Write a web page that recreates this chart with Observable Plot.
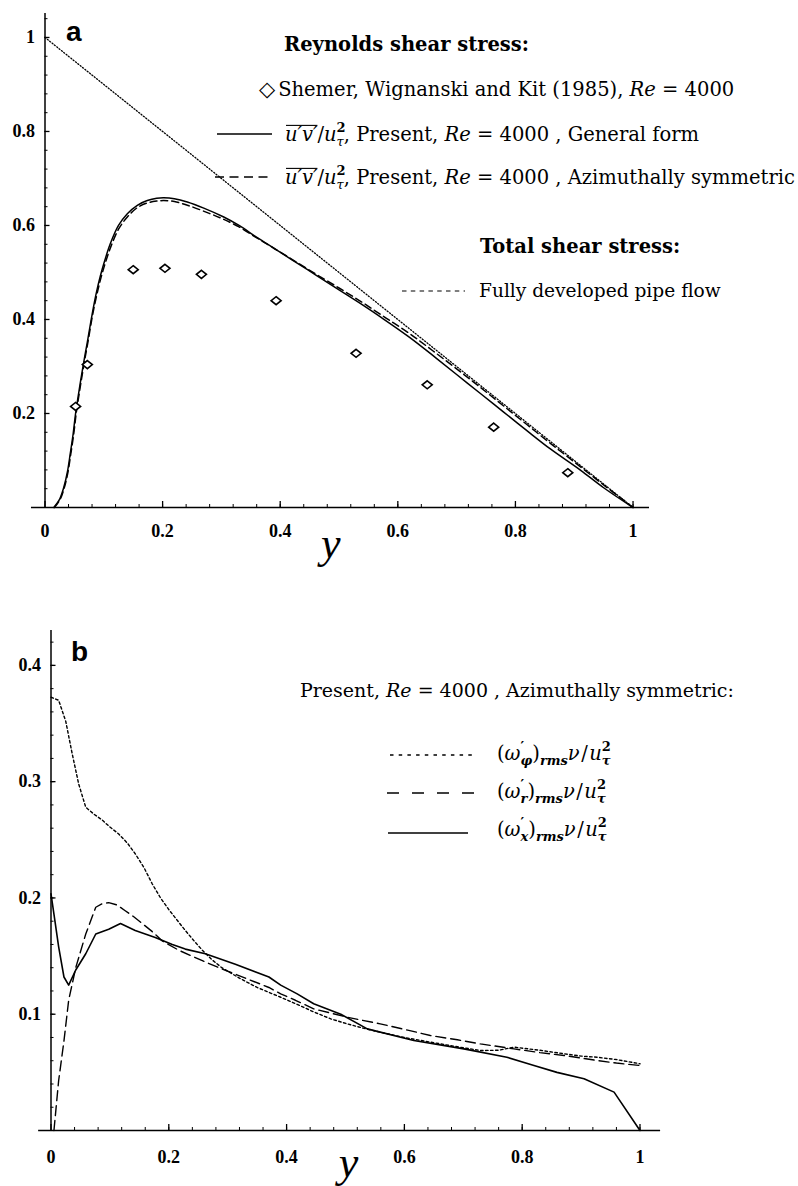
<!DOCTYPE html>
<html>
<head>
<meta charset="utf-8">
<script src="https://cdn.jsdelivr.net/npm/d3@7"></script>
<script src="https://cdn.jsdelivr.net/npm/@observablehq/plot@0.6"></script>
<style>
  body { margin: 0; background: #fff; }
  svg { display: block; }
</style>
</head>
<body>
<div id="chart"></div>
<script>
// ---------- Panel a: shear stress across the pipe ----------
// Reynolds shear stress, general form
const stressGenX = [0.015, 0.025, 0.032, 0.038, 0.043, 0.048, 0.052, 0.056, 0.060, 0.066, 0.072, 0.080, 0.087, 0.094, 0.102, 0.111, 0.125, 0.140, 0.157, 0.174, 0.190, 0.202, 0.220, 0.242, 0.270, 0.304, 0.330, 0.361, 0.390, 0.420, 0.460, 0.500, 0.540, 0.571, 0.620, 0.660, 0.700, 0.741, 0.780, 0.820, 0.860, 0.911, 0.950, 1.000];
const stressGenY = [0, 0.018, 0.043, 0.075, 0.115, 0.158, 0.200, 0.233, 0.265, 0.310, 0.352, 0.410, 0.455, 0.492, 0.527, 0.561, 0.600, 0.625, 0.643, 0.653, 0.658, 0.659, 0.657, 0.650, 0.637, 0.618, 0.600, 0.574, 0.551, 0.527, 0.495, 0.463, 0.431, 0.405, 0.362, 0.323, 0.283, 0.242, 0.203, 0.163, 0.124, 0.079, 0.042, 0];
// Reynolds shear stress, azimuthally symmetric
const stressSymX = [0.016, 0.026, 0.033, 0.039, 0.044, 0.049, 0.053, 0.057, 0.061, 0.067, 0.073, 0.081, 0.088, 0.095, 0.103, 0.112, 0.125, 0.140, 0.157, 0.174, 0.190, 0.202, 0.220, 0.247, 0.281, 0.304, 0.330, 0.361, 0.390, 0.420, 0.460, 0.500, 0.540, 0.580, 0.620, 0.660, 0.700, 0.740, 0.780, 0.820, 0.860, 0.900, 0.950, 1.000];
const stressSymY = [0, 0.018, 0.043, 0.075, 0.115, 0.158, 0.200, 0.233, 0.265, 0.310, 0.352, 0.410, 0.452, 0.488, 0.522, 0.555, 0.592, 0.618, 0.638, 0.648, 0.652, 0.653, 0.651, 0.641, 0.625, 0.613, 0.597, 0.573, 0.551, 0.528, 0.497, 0.467, 0.436, 0.403, 0.370, 0.333, 0.295, 0.256, 0.216, 0.176, 0.136, 0.097, 0.048, 0];
// Total shear stress, fully developed pipe flow
const totalX = [0, 1];
const totalY = [1, 0];
// Shemer, Wignanski and Kit (1985), Re = 4000
const shemerX = [0.052, 0.072, 0.150, 0.204, 0.266, 0.393, 0.529, 0.650, 0.763, 0.889];
const shemerY = [0.215, 0.304, 0.506, 0.509, 0.496, 0.440, 0.328, 0.261, 0.171, 0.074];

// ---------- Panel b: rms vorticity fluctuations ----------
const omegaPhiX = [0, 0.013, 0.025, 0.036, 0.047, 0.059, 0.073, 0.087, 0.100, 0.115, 0.130, 0.143, 0.158, 0.172, 0.186, 0.200, 0.214, 0.228, 0.243, 0.257, 0.273, 0.290, 0.320, 0.350, 0.390, 0.420, 0.446, 0.475, 0.503, 0.530, 0.559, 0.600, 0.644, 0.690, 0.729, 0.760, 0.786, 0.830, 0.871, 0.900, 0.927, 0.960, 1.000];
const omegaPhiY = [0.3726, 0.370, 0.352, 0.324, 0.298, 0.278, 0.272, 0.267, 0.261, 0.255, 0.247, 0.238, 0.226, 0.212, 0.200, 0.190, 0.181, 0.172, 0.163, 0.155, 0.147, 0.140, 0.131, 0.123, 0.1146, 0.108, 0.102, 0.096, 0.0917, 0.088, 0.0845, 0.080, 0.076, 0.072, 0.0688, 0.069, 0.0717, 0.069, 0.066, 0.064, 0.063, 0.061, 0.0574];
const omegaRX = [0.005, 0.013, 0.022, 0.030, 0.042, 0.059, 0.076, 0.087, 0.098, 0.112, 0.126, 0.140, 0.155, 0.172, 0.189, 0.217, 0.257, 0.290, 0.330, 0.370, 0.390, 0.415, 0.446, 0.475, 0.503, 0.559, 0.600, 0.644, 0.690, 0.729, 0.786, 0.830, 0.871, 0.927, 0.960, 1.000];
const omegaRY = [0, 0.043, 0.077, 0.112, 0.140, 0.169, 0.192, 0.195, 0.196, 0.194, 0.189, 0.184, 0.178, 0.171, 0.163, 0.155, 0.146, 0.139, 0.131, 0.123, 0.1175, 0.112, 0.1046, 0.101, 0.0974, 0.0917, 0.087, 0.0817, 0.078, 0.0745, 0.0702, 0.067, 0.0645, 0.0602, 0.058, 0.0559];
const omegaXX = [0, 0.005, 0.013, 0.022, 0.030, 0.042, 0.059, 0.076, 0.098, 0.118, 0.143, 0.177, 0.206, 0.228, 0.262, 0.313, 0.370, 0.390, 0.418, 0.446, 0.492, 0.537, 0.616, 0.701, 0.774, 0.820, 0.859, 0.905, 0.956, 1.000];
const omegaXY = [0.2035, 0.186, 0.158, 0.132, 0.125, 0.138, 0.152, 0.169, 0.173, 0.178, 0.172, 0.166, 0.160, 0.156, 0.152, 0.143, 0.132, 0.125, 0.1175, 0.109, 0.100, 0.0874, 0.0774, 0.0702, 0.063, 0.0559, 0.050, 0.0445, 0.033, 0];

// ---------- Tick values and labels ----------
const xTickValues = [0, 0.2, 0.4, 0.6, 0.8, 1];
const xTickLabels = ["0", "0.2", "0.4", "0.6", "0.8", "1"];
const aYTickValues = [0.2, 0.4, 0.6, 0.8, 1];
const aYTickLabels = ["0.2", "0.4", "0.6", "0.8", "1"];
const bYTickValues = [0.1, 0.2, 0.3, 0.4];
const bYTickLabels = ["0.1", "0.2", "0.3", "0.4"];

// ---------- helpers ----------
const zip = (xs, ys) => xs.map((x, i) => ({x, y: ys[i]}));
const ticks = (vals, labels) => vals.map((v, i) => ({v, label: labels[i]}));
const minorTicks = (lo, hi, step) => d3.range(Math.round(lo / step), Math.floor(hi / step + 1e-9) + 1).map(k => +(k * step).toFixed(4));

const SERIF = "'Liberation Serif', 'Times New Roman', serif";
const TEXT_SERIF = "'DejaVu Serif', serif";
const SANS = "'Liberation Sans', Arial, sans-serif";
const tickFont = {fontFamily: SERIF, fontWeight: "bold", fontSize: 18, fill: "black"};

// flat diamond used for the experimental points
const flatDiamond = {
  draw(context, size) {
    const r = Math.sqrt(size / Math.PI);
    const h = r * 0.8;
    context.moveTo(0, -h);
    context.lineTo(r, 0);
    context.lineTo(0, h);
    context.lineTo(-r, 0);
    context.closePath();
  }
};

const W = 798, H = 593;

// axis frame in the Mathematica style: crossing axes with inward ticks
function axesMarks({xMin, xMax, yMax, pxX, pxY, yMinorStep, yTicks, xLabelDy}) {
  return [
    Plot.ruleY([0], {x1: xMin, x2: xMax, stroke: "black", strokeWidth: 1.7}),
    Plot.ruleX([0], {y1: 0, y2: yMax, stroke: "black", strokeWidth: 1.5}),
    Plot.ruleX(minorTicks(0.04, xMax, 0.04), {x: d => d, y1: 0, y2: 3 / pxY, stroke: "black", strokeWidth: 1}),
    Plot.ruleX(xTickValues, {x: d => d, y1: 0, y2: 6 / pxY, stroke: "black", strokeWidth: 1.3}),
    Plot.ruleY(minorTicks(yMinorStep, yMax, yMinorStep), {y: d => d, x1: 0, x2: 3 / pxX, stroke: "black", strokeWidth: 1}),
    Plot.ruleY(yTicks, {y: d => d.v, x1: 0, x2: 5 / pxX, stroke: "black", strokeWidth: 1.3}),
    Plot.text(ticks(xTickValues, xTickLabels), {x: d => d.v, y: 0, dy: xLabelDy, text: d => d.label, ...tickFont}),
    Plot.text(yTicks, {x: 0, y: d => d.v, dx: -10, textAnchor: "end", text: d => d.label, ...tickFont})
  ];
}

// left-to-right writer for legend lines with italic, overlined and stacked parts
function writeLine(svg, x, y, pieces, base) {
  const g = d3.select(svg).append("g").attr("fill", "black").attr("text-anchor", "start");
  let cx = x;
  for (const p of pieces) {
    const size = p.size ?? base.size;
    const t = g.append("text")
      .attr("x", cx)
      .attr("y", y + (p.shift ?? 0))
      .attr("text-anchor", "start")
      .attr("font-family", p.family ?? base.family)
      .attr("font-size", size)
      .attr("font-style", p.italic ? "italic" : "normal")
      .attr("font-weight", p.bold ? "bold" : "normal")
      .style("white-space", "pre")
      .text(p.text);
    const w = t.node().getComputedTextLength();
    if (p.over) {
      g.append("line")
        .attr("x1", cx + 1).attr("x2", cx + w)
        .attr("y1", y - size * 0.8).attr("y2", y - size * 0.8)
        .attr("stroke", "black").attr("stroke-width", 1.1);
    }
    if (!p.hold) cx += w + (p.kern ?? 0);
  }
  return cx;
}

function sample(svg, x1, x2, y, dash, width = 1.5) {
  d3.select(svg).append("line")
    .attr("x1", x1).attr("x2", x2).attr("y1", y).attr("y2", y)
    .attr("stroke", "black").attr("stroke-width", width)
    .attr("stroke-dasharray", dash);
}

const chart = document.getElementById("chart");

// ---------- Panel a ----------
const aM = {top: 13, bottom: 86, left: 44.5, right: 149};
const aXMax = 1.028, aYMax = 1.051;
const aPxX = (W - aM.left - aM.right) / aXMax;
const aPxY = (H - aM.top - aM.bottom) / aYMax;

const plotA = Plot.plot({
  width: W, height: H,
  marginTop: aM.top, marginBottom: aM.bottom, marginLeft: aM.left, marginRight: aM.right,
  x: {domain: [0, aXMax], axis: null},
  y: {domain: [0, aYMax], axis: null},
  style: {background: "white", overflow: "visible"},
  marks: [
    ...axesMarks({xMin: -0.023, xMax: aXMax, yMax: aYMax, pxX: aPxX, pxY: aPxY, yMinorStep: 0.04,
                  yTicks: ticks(aYTickValues, aYTickLabels), xLabelDy: 24}),
    Plot.line(zip(totalX, totalY), {x: "x", y: "y", stroke: "black", strokeWidth: 1.3, strokeDasharray: "1.1,1.9"}),
    Plot.line(zip(stressSymX, stressSymY), {x: "x", y: "y", curve: "catmull-rom", stroke: "black", strokeWidth: 1.5, strokeDasharray: "7,4"}),
    Plot.line(zip(stressGenX, stressGenY), {x: "x", y: "y", curve: "catmull-rom", stroke: "black", strokeWidth: 1.5}),
    Plot.dot(zip(shemerX, shemerY), {x: "x", y: "y", r: 5, symbol: flatDiamond, stroke: "black", strokeWidth: 1.6, fill: "white"}),
    Plot.text(["y"], {x: 0.486, y: 0, dy: 36, text: d => d, fontFamily: SERIF, fontStyle: "italic", fontSize: 44, fill: "black"}),
    Plot.text(["a"], {x: 0, y: aYMax, dx: 21, dy: 19, textAnchor: "start", text: d => d, fontFamily: SANS, fontWeight: "bold", fontSize: 28, fill: "black"})
  ]
});
chart.appendChild(plotA);

{
  const base = {size: 19.5, family: TEXT_SERIF};
  const uv = [
    {text: "u′v′", italic: true, over: true},
    {text: "/"},
    {text: "u", italic: true},
    {text: "2", size: 13, shift: -9, hold: true, bold: true},
    {text: "τ", size: 13, italic: true, shift: 5},
    {text: ", Present, "},
    {text: "Re", italic: true}
  ];
  writeLine(plotA, 284, 51, [{text: "Reynolds shear stress:", bold: true}], base);
  writeLine(plotA, 259, 96, [{text: "◇", family: "'DejaVu Sans'", size: 21, kern: 3}, {text: "Shemer, Wignanski and Kit (1985), "}, {text: "Re", italic: true}, {text: " = 4000"}], base);
  sample(plotA, 217, 272, 134, null, 1.6);
  writeLine(plotA, 285, 141, [...uv, {text: " = 4000 , General form"}], base);
  sample(plotA, 215, 272, 177, "9,5.5", 1.6);
  writeLine(plotA, 285, 184, [...uv, {text: " = 4000 , Azimuthally symmetric"}], base);
  writeLine(plotA, 480, 253, [{text: "Total shear stress:", bold: true}], base);
  sample(plotA, 402, 465, 291, "4.5,4.3", 1.2);
  writeLine(plotA, 479, 297, [{text: "Fully developed pipe flow"}], {size: 18.6, family: TEXT_SERIF});
}

// ---------- Panel b ----------
const bM = {top: 37, bottom: 56, left: 50.5, right: 137.9};
const bXMax = 1.035, bYMax = 0.43;
const bPxX = (W - bM.left - bM.right) / bXMax;
const bPxY = (H - bM.top - bM.bottom) / bYMax;

const plotB = Plot.plot({
  width: W, height: H,
  marginTop: bM.top, marginBottom: bM.bottom, marginLeft: bM.left, marginRight: bM.right,
  x: {domain: [0, bXMax], axis: null},
  y: {domain: [0, bYMax], axis: null},
  style: {background: "white", overflow: "visible"},
  marks: [
    ...axesMarks({xMin: -0.021, xMax: bXMax, yMax: bYMax, pxX: bPxX, pxY: bPxY, yMinorStep: 0.02,
                  yTicks: ticks(bYTickValues, bYTickLabels), xLabelDy: 27}),
    Plot.line(zip(omegaPhiX, omegaPhiY), {x: "x", y: "y", stroke: "black", strokeWidth: 1.4, strokeDasharray: "2.5,2.5"}),
    Plot.line(zip(omegaRX, omegaRY), {x: "x", y: "y", stroke: "black", strokeWidth: 1.4, strokeDasharray: "10,5"}),
    Plot.line(zip(omegaXX, omegaXY), {x: "x", y: "y", stroke: "black", strokeWidth: 1.6}),
    Plot.text(["y"], {x: 0.505, y: 0, dy: 32, text: d => d, fontFamily: SERIF, fontStyle: "italic", fontSize: 44, fill: "black"}),
    Plot.text(["b"], {x: 0, y: bYMax, dx: 20, dy: 22, textAnchor: "start", text: d => d, fontFamily: SANS, fontWeight: "bold", fontSize: 28, fill: "black"})
  ]
});
chart.appendChild(plotB);

{
  writeLine(plotB, 300, 104, [{text: "Present, "}, {text: "Re", italic: true}, {text: " = 4000 , Azimuthally symmetric:"}], {size: 19, family: TEXT_SERIF});
  const omega = (comp) => [
    {text: "("},
    {text: "ω", italic: true},
    {text: "′", size: 14, shift: -8, hold: true, bold: true},
    {text: comp, size: 13, italic: true, bold: true, shift: 5},
    {text: ")"},
    {text: "rms", size: 13, italic: true, bold: true, shift: 5},
    {text: "ν", italic: true, kern: 1.5},
    {text: "/", kern: 1.5},
    {text: "u", italic: true},
    {text: "2", size: 13, shift: -9, hold: true, bold: true},
    {text: "τ", size: 13, italic: true, bold: true, shift: 5}
  ];
  const mbase = {size: 19.5, family: TEXT_SERIF};
  sample(plotB, 390, 477, 162, "3.5,5.2", 1.3);
  writeLine(plotB, 497, 167, omega("φ"), mbase);
  sample(plotB, 387, 475, 200, "12,13", 1.6);
  writeLine(plotB, 497, 205, omega("r"), mbase);
  sample(plotB, 388, 468, 240, null, 1.6);
  writeLine(plotB, 497, 243, omega("x"), mbase);
}
</script>
</body>
</html>
